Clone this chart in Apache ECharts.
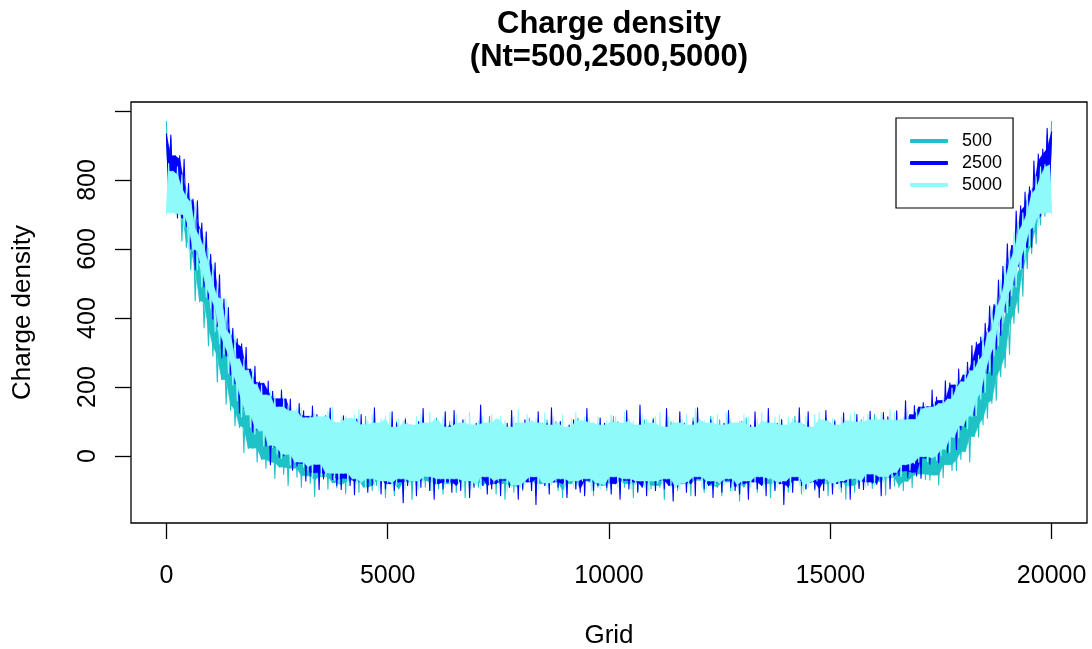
<!DOCTYPE html>
<html>
<head>
<meta charset="utf-8">
<title>Charge density</title>
<script src="https://cdn.jsdelivr.net/npm/echarts@6/dist/echarts.min.js"></script>
<style>
  html, body { margin: 0; padding: 0; background: #fff; }
  #main { width: 1092px; height: 649px; }
</style>
</head>
<body>
<div id="main"></div>
<script>
// charge density, one sample every 50 grid points (0..20000)
var gridStep = 50;

var charge500 = [
  970,765,920,740,860,703,835,623,785,605,
  720,540,695,450,630,447,585,372,505,320,
  510,290,420,215,395,222,340,150,345,133,
  277,88,230,83,247,10,208,22,176,23,
  185,-17,161,-9,135,-35,170,-18,142,-65,
  122,-32,150,-53,113,-85,112,-35,127,-61,
  107,-90,109,-57,87,-79,80,-117,107,-69,
  111,-60,85,-96,124,-77,98,-92,77,-83,
  71,-109,101,-75,90,-70,105,-105,85,-90,
  115,-90,70,-100,75,-85,95,-70,65,-120,
  90,-80,85,-115,100,-95,75,-105,110,-75,
  75,-125,60,-85,90,-70,105,-90,85,-100,
  95,-75,110,-95,70,-110,80,-80,100,-85,
  85,-105,75,-70,95,-120,65,-100,90,-75,
  70,-90,100,-85,80,-95,115,-75,75,-110,
  105,-80,90,-125,65,-85,70,-105,95,-90,
  80,-100,75,-70,110,-95,85,-115,60,-80,
  95,-85,105,-90,70,-75,100,-100,80,-120,
  75,-110,65,-80,90,-95,110,-70,85,-105,
  100,-75,80,-115,75,-90,95,-85,70,-100,
  85,-95,115,-70,100,-110,65,-90,90,-80,
  70,-120,80,-100,95,-75,105,-85,75,-95,
  110,-85,70,-90,85,-125,90,-70,100,-105,
  65,-100,95,-80,75,-95,80,-115,110,-75,
  90,-70,100,-105,70,-85,115,-95,65,-90,
  105,-115,85,-75,90,-100,75,-80,95,-130,
  75,-90,110,-95,65,-70,100,-105,85,-85,
  95,-80,70,-120,80,-95,90,-75,105,-100,
  80,-105,90,-85,115,-70,75,-110,70,-95,
  100,-75,65,-100,95,-90,85,-80,110,-115,
  70,-95,105,-70,75,-105,95,-125,80,-85,
  95,-105,90,-90,105,-70,75,-85,70,-94,
  121,-79,81,-74,97,-113,107,-62,93,-87,
  84,-91,105,-100,81,-73,93,-91,120,-59,
  102,-52,130,-68,89,-69,118,-55,108,-84,
  139,-63,116,-25,149,-42,148,-42,154,-10,
  151,13,205,-17,192,57,248,55,253,91,
  280,110,302,153,355,162,365,230,447,255,
  468,295,522,385,548,415,640,463,675,543,
  740,587,775,615,850,670,855,695,930,775,
  970
];

var charge2500 = [
  935,775,930,745,870,690,870,690,860,665,
  790,600,745,540,740,560,675,490,650,455,
  585,397,560,375,525,285,455,290,430,235,
  370,210,340,125,325,138,315,133,252,70,
  260,76,215,79,211,29,217,-25,188,27,
  166,-4,191,1,166,12,165,-41,125,-29,
  152,-21,131,-72,115,-58,145,-48,120,-97,
  86,-66,117,-50,139,-68,96,-85,84,-97,
  117,-64,100,-85,74,-112,107,-74,120,-66,
  88,-105,75,-85,140,-65,90,-110,80,-95,
  70,-80,128,-100,95,-75,60,-135,105,-85,
  90,-70,80,-115,100,-90,138,-60,85,-100,
  75,-125,95,-80,70,-95,128,-75,90,-105,
  132,-85,65,-100,105,-70,85,-120,75,-90,
  95,-65,148,-85,80,-110,90,-95,70,-80,
  100,-115,75,-70,95,-90,132,-80,60,-125,
  85,-95,105,-75,70,-100,90,-140,128,-65,
  80,-85,95,-110,140,-75,65,-90,100,-80,
  70,-120,90,-65,105,-95,85,-105,75,-115,
  138,-70,80,-100,90,-85,110,-75,95,-90,
  65,-110,100,-80,75,-125,85,-70,132,-95,
  90,-75,70,-105,148,-90,80,-115,95,-60,
  105,-100,85,-70,65,-95,138,-85,75,-130,
  80,-90,128,-75,95,-105,70,-80,100,-115,
  140,-65,90,-95,80,-85,105,-120,70,-75,
  75,-105,95,-70,132,-90,85,-100,65,-110,
  100,-80,70,-125,90,-75,128,-95,80,-85,
  85,-115,138,-65,75,-100,95,-80,105,-140,
  70,-90,80,-105,100,-70,140,-85,90,-95,
  128,-75,65,-95,85,-120,75,-100,132,-70,
  95,-110,100,-80,70,-90,125,-75,80,-125,
  83,-66,120,-94,97,-97,74,-75,130,-79,
  87,-82,99,-115,126,-48,114,-95,92,-56,
  131,-57,100,-43,160,-63,120,-47,146,-56,
  142,-64,155,-6,143,-23,191,1,171,-19,
  161,22,218,10,212,54,206,19,252,76,
  235,85,272,138,320,118,330,185,345,185,
  385,240,435,235,440,310,510,350,550,417,
  615,435,610,495,710,550,725,545,765,605,
  780,605,855,685,875,695,890,750,950,760,
  940
];

var charge5000 = [
  700,848,705,825,700,838,700,815,665,775,
  600,750,595,735,540,658,490,635,460,602,
  430,555,360,500,325,460,295,455,240,365,
  205,350,160,282,113,281,119,249,84,251,
  63,210,73,206,29,177,31,190,25,175,
  6,142,-7,169,5,147,-26,131,-17,140,
  -18,140,-32,111,-41,117,-60,123,-24,114,
  -58,115,-60,131,-50,141,-70,97,-78,113,
  -50,117,-88,109,-66,119,-80,135,-76,91,
  -90,102,-66,120,-84,96,-102,108,-72,114,
  -78,126,-90,84,-84,108,-66,102,-96,96,
  -84,90,-72,114,-96,120,-78,96,-60,126,
  -102,108,-84,102,-66,114,-90,84,-84,102,
  -66,120,-78,96,-90,108,-72,126,-96,90,
  -84,102,-96,114,-60,96,-84,120,-78,108,
  -72,114,-66,102,-102,84,-90,114,-84,135,
  -90,96,-84,120,-72,102,-60,108,-96,96,
  -78,126,-90,90,-84,114,-78,96,-66,120,
  -96,84,-72,108,-90,126,-84,102,-72,114,
  -66,108,-102,96,-78,114,-96,90,-84,102,
  -84,120,-60,114,-90,96,-78,126,-66,108,
  -96,102,-84,90,-72,120,-90,108,-102,96,
  -72,114,-78,126,-84,84,-66,114,-90,102,
  -90,96,-96,108,-78,120,-84,90,-72,138,
  -60,108,-90,102,-96,96,-72,114,-84,120,
  -78,90,-84,126,-66,108,-102,96,-90,102,
  -84,120,-72,114,-90,84,-78,108,-60,126,
  -96,102,-66,96,-84,114,-90,120,-78,90,
  -72,114,-96,108,-60,102,-84,96,-102,114,
  -90,84,-78,120,-72,126,-66,108,-84,102,
  -78,108,-90,90,-96,114,-72,102,-90,120,
  -66,127,-82,99,-74,113,-90,121,-52,105,
  -86,113,-60,127,-76,105,-68,135,-60,127,
  -48,104,-59,113,-25,132,-41,106,-22,135,
  -18,140,-2,151,-16,142,-5,154,-12,152,
  1,170,20,165,11,197,54,216,53,215,
  88,246,79,249,114,276,118,292,165,355,
  185,365,245,430,290,455,320,510,385,560,
  415,592,465,650,490,673,540,705,570,760,
  610,775,655,810,665,838,700,845,705,843,
  700
];

var seriesNames = ['500', '2500', '5000'];
var seriesColors = ['#1FC2C6', '#0000FF', '#8FFAFA'];
var xTicks = [0, 5000, 10000, 15000, 20000];
var yTicks = [0, 200, 400, 600, 800, 1000];
var yLabels = [0, 200, 400, 600, 800];

var fontFamily = '"Liberation Sans", Arial, Helvetica, sans-serif';

function toPoints(values) {
  return values.map(function (v, i) {
    return [i * gridStep, v];
  });
}

// the real line has ~20 points per pixel, so it paints a solid band with hairy edges.
// fill the steady part of that band, then draw the line itself for the spikes
function renderBand(params, api) {
  if (params.dataIndexInside !== 0) return null;
  var n = params.dataInsideLength;
  var peaks = [], troughs = [], line = [];
  for (var k = 0; k < n; k++) {
    var x = api.value(0, k), v = api.value(1, k);
    var prev = k > 0 ? api.value(1, k - 1) : null;
    var next = k < n - 1 ? api.value(1, k + 1) : null;
    line.push(api.coord([x, v]));
    if ((prev === null || v >= prev) && (next === null || v >= next)) peaks.push([x, v]);
    if ((prev === null || v <= prev) && (next === null || v <= next)) troughs.push([x, v]);
  }
  function core(list, pick) {
    return list.map(function (p, j) {
      var a = list[Math.max(j - 1, 0)][1];
      var b = list[Math.min(j + 1, list.length - 1)][1];
      return api.coord([p[0], pick(a, p[1], b)]);
    });
  }
  var top = core(peaks, Math.min);
  var bottom = core(troughs, Math.max).reverse();
  var color = api.visual('color');
  return {
    type: 'group',
    children: [{
      type: 'polygon',
      shape: { points: top.concat(bottom) },
      style: { fill: color, stroke: color, lineWidth: 0.6 }
    }, {
      type: 'polyline',
      shape: { points: line },
      style: { fill: null, stroke: color, lineWidth: 1.1, lineJoin: 'round' }
    }]
  };
}

var chart = echarts.init(document.getElementById('main'));

chart.setOption({
  animation: false,
  backgroundColor: '#fff',
  textStyle: { fontFamily: fontFamily },
  graphic: [{
    type: 'text',
    x: 609,
    y: 8,
    style: {
      text: 'Charge density\n(Nt=500,2500,5000)',
      font: 'bold 31px ' + fontFamily,
      lineHeight: 33,
      fill: '#000',
      align: 'center',
      verticalAlign: 'top'
    }
  }],
  grid: {
    left: 131,
    top: 102,
    width: 956,
    height: 421,
    show: true,
    borderColor: '#000',
    borderWidth: 1.3,
    backgroundColor: 'transparent',
    outerBoundsMode: 'none'
  },
  legend: {
    orient: 'vertical',
    left: 896,
    top: 118,
    padding: [14, 11, 14, 14],
    borderColor: '#000',
    borderWidth: 1.2,
    itemWidth: 38,
    itemHeight: 4,
    itemGap: 4,
    icon: 'roundRect',
    selectedMode: false,
    textStyle: {
      fontSize: 18,
      lineHeight: 16,
      color: '#000',
      fontFamily: fontFamily,
      padding: [0, 0, 0, 9]
    },
    data: seriesNames.map(function (name, i) {
      return { name: name, itemStyle: { color: seriesColors[i] } };
    })
  },
  xAxis: {
    type: 'value',
    min: -800,
    max: 20800,
    name: 'Grid',
    nameLocation: 'middle',
    nameGap: 100,
    nameMoveOverlap: false,
    nameTextStyle: { fontSize: 26, color: '#000', fontFamily: fontFamily },
    axisLine: { show: false, onZero: false },
    splitLine: { show: false },
    axisTick: {
      show: true,
      length: 16,
      customValues: xTicks,
      lineStyle: { color: '#000', width: 1.3 }
    },
    axisLabel: {
      customValues: xTicks,
      formatter: function (v) { return String(v); },
      fontSize: 25,
      color: '#000',
      margin: 41,
      fontFamily: fontFamily
    }
  },
  yAxis: {
    type: 'value',
    min: -194,
    max: 1026,
    name: 'Charge density',
    nameLocation: 'middle',
    nameGap: 95,
    nameRotate: 90,
    nameMoveOverlap: false,
    nameTextStyle: { fontSize: 26, color: '#000', fontFamily: fontFamily },
    axisLine: { show: false, onZero: false },
    splitLine: { show: false },
    axisTick: {
      show: true,
      length: 16,
      customValues: yTicks,
      lineStyle: { color: '#000', width: 1.3 }
    },
    axisLabel: {
      customValues: yLabels,
      formatter: function (v) { return String(v); },
      rotate: 90,
      fontSize: 25,
      color: '#000',
      margin: 30,
      fontFamily: fontFamily
    }
  },
  series: [charge500, charge2500, charge5000].map(function (values, i) {
    return {
      type: 'custom',
      name: seriesNames[i],
      coordinateSystem: 'cartesian2d',
      data: toPoints(values),
      encode: { x: 0, y: 1 },
      itemStyle: { color: seriesColors[i] },
      renderItem: renderBand,
      silent: true
    };
  })
});
</script>
</body>
</html>
